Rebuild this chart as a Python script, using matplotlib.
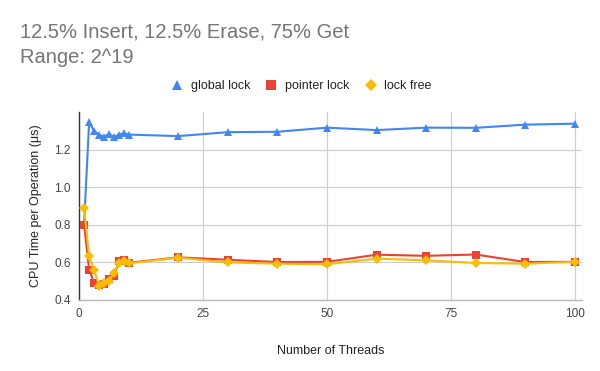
import matplotlib
matplotlib.use("Agg")
import matplotlib.pyplot as plt
from matplotlib.lines import Line2D

threads = [1, 2, 3, 4, 5, 6, 7, 8, 9, 10, 20, 30, 40, 50, 60, 70, 80, 90, 100]
global_lock = [0.81, 1.345, 1.30, 1.28, 1.268, 1.283, 1.268, 1.28, 1.288, 1.28,
               1.272, 1.293, 1.295, 1.317, 1.304, 1.317, 1.316, 1.333, 1.338]
pointer_lock = [0.80, 0.562, 0.492, 0.478, 0.483, 0.51, 0.525, 0.605, 0.615, 0.598,
                0.627, 0.614, 0.602, 0.603, 0.641, 0.635, 0.642, 0.602, 0.603]
lock_free = [0.89, 0.633, 0.562, 0.475, 0.49, 0.50, 0.545, 0.598, 0.607, 0.595,
             0.625, 0.600, 0.593, 0.590, 0.620, 0.611, 0.597, 0.593, 0.603]
series_names = ["global lock", "pointer lock", "lock free"]
x_ticks = [0, 25, 50, 75, 100]
y_ticks = [0.4, 0.6, 0.8, 1.0, 1.2]

plt.rcParams['font.family'] = ['Liberation Sans', 'DejaVu Sans']

fig = plt.figure(figsize=(6, 3.71), dpi=100)
ax = fig.add_axes([0.132, 0.1914, 0.9695 - 0.132, 0.698 - 0.1914])

colors = ["#4285F4", "#EA4335", "#FBBC04"]
markers = ["^", "s", "D"]
msizes = [6, 5.5, 5.5]
for ys, c, m, ms, name in zip([global_lock, pointer_lock, lock_free], colors, markers, msizes, series_names):
    ax.plot(threads, ys, color=c, marker=m, markersize=ms, linewidth=1.5,
            markeredgewidth=0, label=name, zorder=3)

ax.set_xlim(0, 101.4)
ax.set_ylim(0.4, 1.4)
ax.set_xticks(x_ticks)
ax.set_yticks(y_ticks)
ax.set_yticklabels([f"{v:.1f}" for v in y_ticks])
ax.grid(True, color="#cccccc", linewidth=0.8, zorder=0)
ax.tick_params(length=0, labelsize=8.5, labelcolor="#444444", pad=6)
for s in ["top", "right"]:
    ax.spines[s].set_visible(False)
ax.spines["left"].set_color("#333333")
ax.spines["left"].set_linewidth(1.0)
ax.spines["bottom"].set_color("#bbbbbb")
ax.spines["bottom"].set_linewidth(1.0)

ax.set_xlabel("Number of Threads", fontsize=9, color="#222222", labelpad=18)
ax.set_ylabel("CPU Time per Operation (μs)", fontsize=9, color="#222222", labelpad=9)

fig.text(20 / 600, 1 - 38 / 371, "12.5% Insert, 12.5% Erase, 75% Get", fontsize=14.5,
         color="#757575", ha="left", va="baseline")
fig.text(20 / 600, 1 - 63 / 371, "Range: 2^19", fontsize=14.5,
         color="#757575", ha="left", va="baseline")

handles = [Line2D([], [], color=c, marker=m, linestyle="none", markersize=ms + 1, markeredgewidth=0)
           for c, m, ms in zip(colors, markers, msizes)]
fig.legend(handles, series_names, loc="center", bbox_to_anchor=(0.502, 1 - 86 / 371),
           ncol=3, frameon=False, fontsize=9, handlelength=1.0, handletextpad=0.6,
           columnspacing=1.2, labelcolor="#222222")

fig.savefig("out.png", dpi=100, facecolor="white")
